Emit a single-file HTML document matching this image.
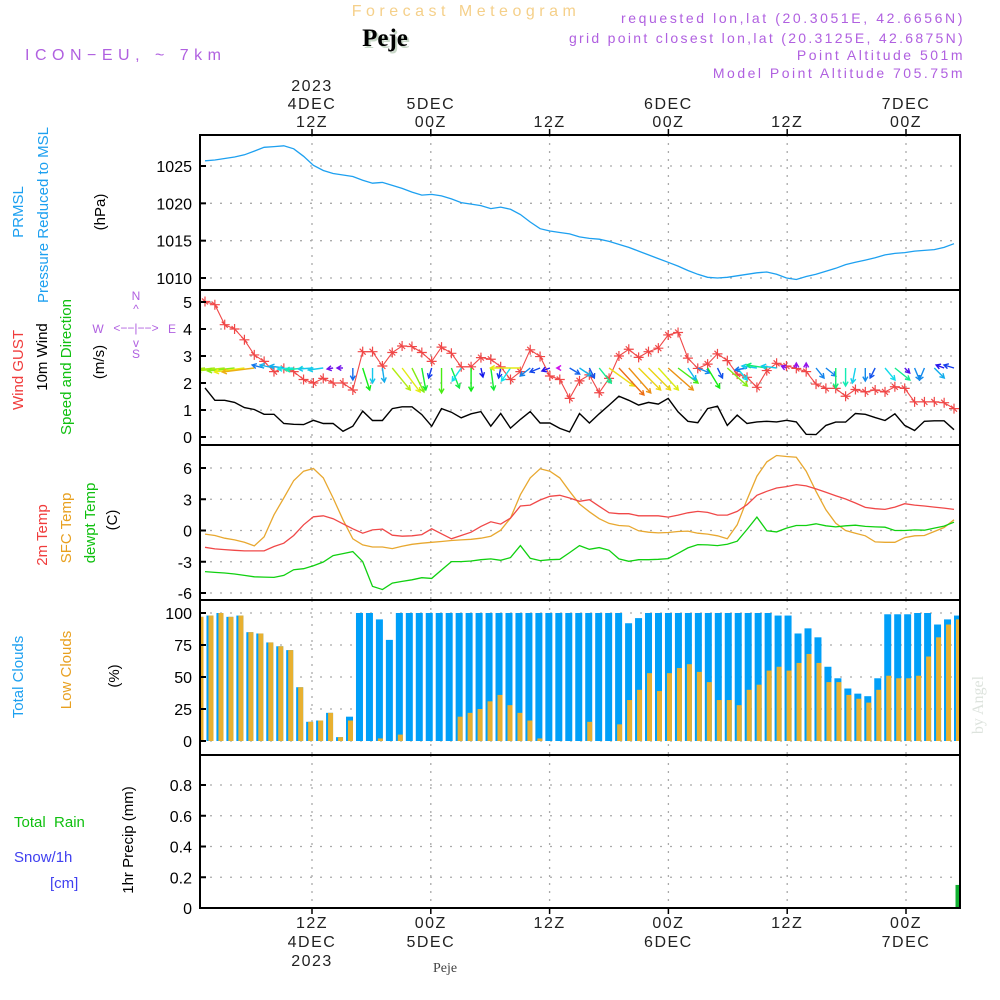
<!DOCTYPE html>
<html><head><meta charset="utf-8">
<style>
html,body{margin:0;padding:0;background:#fff;}
#wrap{position:relative;width:1000px;height:1000px;overflow:hidden;}
svg text{font-family:"Liberation Sans","DejaVu Sans",sans-serif;}
</style></head>
<body>
<div id="wrap">
<svg id="chart" width="1000" height="1000" viewBox="0 0 1000 1000">
<defs>
<clipPath id="plotclip"><rect x="200" y="135" width="760" height="775"/></clipPath>
</defs>
<g>
<text x="466" y="16" text-anchor="middle" font-size="16" fill="#f5d08a" letter-spacing="4.5">Forecast Meteogram</text>
<text x="387" y="48" text-anchor="middle" font-size="25" font-weight="bold" fill="#c8d8c8" style="font-family:'Liberation Serif',serif">Peje</text>
<text x="385" y="46" text-anchor="middle" font-size="25" font-weight="bold" fill="#000" style="font-family:'Liberation Serif',serif">Peje</text>
<text x="25" y="60" font-size="16" fill="#b060e0" letter-spacing="5.5">ICON−EU, ~ 7km</text>
<text x="965" y="23" text-anchor="end" font-size="14" fill="#b060e0" letter-spacing="2.6">requested lon,lat (20.3051E, 42.6656N)</text>
<text x="965" y="43" text-anchor="end" font-size="14" fill="#b060e0" letter-spacing="2.3">grid point closest lon,lat (20.3125E, 42.6875N)</text>
<text x="965" y="60" text-anchor="end" font-size="14" fill="#b060e0" letter-spacing="2.5">Point Altitude 501m</text>
<text x="965" y="78" text-anchor="end" font-size="14" fill="#b060e0" letter-spacing="2.5">Model Point Altitude 705.75m</text>
<text x="445" y="972" text-anchor="middle" font-size="14" fill="#444" style="font-family:'Liberation Serif',serif">Peje</text>
<text transform="translate(983,705) rotate(-90)" text-anchor="middle" font-size="16" fill="#dde3dd" style="font-family:'Liberation Serif',serif">by Angel</text>
</g>
<g id="labels">
<text transform="translate(23,212) rotate(-90)" text-anchor="middle" font-size="15" fill="#1da0f0">PRMSL</text>
<text transform="translate(48,215) rotate(-90)" text-anchor="middle" font-size="15" fill="#1da0f0">Pressure Reduced to MSL</text>
<text transform="translate(105,212) rotate(-90)" text-anchor="middle" font-size="15" fill="#000">(hPa)</text>
<text transform="translate(23,370) rotate(-90)" text-anchor="middle" font-size="15" fill="#f03c3c">Wind GUST</text>
<text transform="translate(47,357) rotate(-90)" text-anchor="middle" font-size="15" fill="#000">10m Wind</text>
<text transform="translate(71,367) rotate(-90)" text-anchor="middle" font-size="15" fill="#10c010">Speed and Direction</text>
<text transform="translate(104,362) rotate(-90)" text-anchor="middle" font-size="15" fill="#000">(m/s)</text>
<g fill="#b060e0" font-size="12">
<text x="136" y="300" text-anchor="middle">N</text>
<text x="136" y="313" text-anchor="middle">^</text>
<text x="98" y="333" text-anchor="middle">W</text>
<text x="136" y="332" text-anchor="middle">&lt;−−|−−&gt;</text>
<text x="172" y="333" text-anchor="middle">E</text>
<text x="136" y="347" text-anchor="middle">v</text>
<text x="136" y="358" text-anchor="middle">S</text>
</g>
<text transform="translate(47,535) rotate(-90)" text-anchor="middle" font-size="15" fill="#f03c3c">2m Temp</text>
<text transform="translate(71,528) rotate(-90)" text-anchor="middle" font-size="15" fill="#e8a020">SFC Temp</text>
<text transform="translate(95,523) rotate(-90)" text-anchor="middle" font-size="15" fill="#10c010">dewpt Temp</text>
<text transform="translate(117,520) rotate(-90)" text-anchor="middle" font-size="15" fill="#000">(C)</text>
<text transform="translate(23,677) rotate(-90)" text-anchor="middle" font-size="15" fill="#1da0f0">Total Clouds</text>
<text transform="translate(71,670) rotate(-90)" text-anchor="middle" font-size="15" fill="#e8a020">Low Clouds</text>
<text transform="translate(119,676) rotate(-90)" text-anchor="middle" font-size="15" fill="#000">(%)</text>
<text x="14" y="827" font-size="15" fill="#10c010" xml:space="preserve">Total  Rain</text>
<text x="14" y="862" font-size="15" fill="#4040f0">Snow/1h</text>
<text x="50" y="888" font-size="15" fill="#4040f0">[cm]</text>
<text transform="translate(133,840) rotate(-90)" text-anchor="middle" font-size="15" fill="#000">1hr Precip (mm)</text>
</g>
<g id="grid"></g>
<g id="marks" clip-path="url(#plotclip)"></g>
<g id="axes"></g>
</svg>
</div>
<script>
// ---- data (hourly, k = 0..76) ----
const timeTickLabelsTop = [["2023","4DEC","12Z"],["5DEC","00Z"],["12Z"],["6DEC","00Z"],["12Z"],["7DEC","00Z"]];
const timeTickLabelsBottom = [["12Z","4DEC","2023"],["00Z","5DEC"],["12Z"],["00Z","6DEC"],["12Z"],["00Z","7DEC"]];
const timeTickHours = [12,24,36,48,60,72];
const pressure = [1025.7,1025.8,1026.0,1026.2,1026.5,1027.0,1027.5,1027.6,1027.7,1027.3,1026.3,1025.1,1024.4,1024.0,1023.8,1023.6,1023.1,1022.7,1022.8,1022.4,1022.0,1021.5,1021.1,1021.2,1021.0,1020.6,1020.1,1019.9,1019.7,1019.3,1019.5,1019.2,1018.5,1017.5,1016.6,1016.3,1016.1,1015.9,1015.5,1015.3,1015.2,1014.9,1014.5,1014.1,1013.6,1013.1,1012.6,1012.1,1011.6,1011.0,1010.5,1010.1,1010.0,1010.1,1010.3,1010.5,1010.7,1010.8,1010.5,1010.0,1009.8,1010.2,1010.5,1010.9,1011.3,1011.8,1012.1,1012.4,1012.7,1013.1,1013.3,1013.4,1013.6,1013.7,1013.8,1014.1,1014.6];
const pressureTicks = [1010,1015,1020,1025];
const gust = [5.02,4.9,4.16,4.0,3.6,3.04,2.8,2.42,2.54,2.42,2.13,2.0,2.17,2.0,2.0,1.74,3.16,3.16,2.63,3.13,3.37,3.35,3.13,2.8,3.33,3.1,2.6,2.6,2.94,2.88,2.6,2.13,2.42,3.23,2.98,2.26,2.13,1.43,2.08,2.3,1.64,2.17,3.0,3.25,2.95,3.16,3.29,3.78,3.87,2.92,2.54,2.7,3.08,2.83,2.33,2.21,1.84,2.46,2.73,2.63,2.54,2.42,1.96,1.8,1.8,1.51,1.76,1.67,1.74,1.67,1.86,1.8,1.3,1.3,1.3,1.27,1.05];
const wind10m = [1.82,1.36,1.36,1.28,1.09,1.02,0.84,0.84,0.5,0.47,0.46,0.62,0.5,0.5,0.21,0.4,0.96,0.61,0.61,1.05,1.12,1.12,0.83,0.4,1.05,0.92,0.71,0.86,0.94,0.4,0.87,0.33,0.65,0.94,0.52,0.52,0.32,0.19,0.87,0.52,0.86,1.18,1.51,1.36,1.18,1.28,1.22,1.43,0.93,0.58,0.53,1.05,1.14,0.43,0.81,0.5,0.56,0.58,0.56,0.62,0.56,0.1,0.09,0.43,0.55,0.55,0.87,0.84,0.72,0.61,0.86,0.43,0.24,0.58,0.6,0.6,0.27];
const windU = [-28,-28,-28,-27,-30,-32,-12,-14,-14,-16,-18,-15,-15,-6,-6,0,7,0,2,18,18,12,4,-3,0,8,-9,0,2,3,-2,-9,-30,-10,-10,-8,-3,10,12,5,12,25,25,22,22,22,20,25,20,8,12,12,5,20,10,-12,-15,-20,-15,-5,0,0,8,10,0,0,-3,0,-5,10,15,5,5,-5,10,-8,-10];
const windV = [3,3,3,3,4,4,-3,-3,-2,1,2,1,2,1,0,12,22,15,14,22,24,24,22,10,25,20,13,23,9,22,10,13,0,8,4,3,0,6,8,10,15,18,27,25,22,22,22,22,15,12,5,20,10,18,12,2,-2,-3,-2,-2,-5,-5,10,8,20,18,15,13,10,12,12,5,12,12,10,-3,-3];
const windTicks = [0,1,2,3,4,5];
const temp2m = [-1.61,-1.77,-1.83,-1.9,-1.96,-1.96,-1.96,-1.54,-1.22,-0.48,0.55,1.32,1.41,1.13,0.64,0.16,-0.26,0.06,0.13,-0.45,-0.55,-0.51,-0.39,0.16,-0.32,-0.8,-0.48,-0.16,0.39,0.84,0.61,1.19,2.35,2.44,2.93,3.28,3.38,3.12,2.8,2.96,2.32,1.7,1.61,1.61,1.41,1.41,1.41,1.29,1.48,1.7,1.83,1.74,1.48,1.48,1.83,2.48,3.38,3.76,4.08,4.21,4.41,4.28,3.99,3.67,3.34,3.02,2.64,2.22,2.09,2.03,2.25,2.57,2.44,2.35,2.25,2.15,2.03];
const tempSfc = [-0.35,-0.48,-0.74,-0.9,-1.13,-1.48,-0.61,1.51,3.12,4.79,5.69,5.95,5.05,3.12,1.03,-0.8,-1.38,-1.58,-1.58,-1.74,-1.51,-1.32,-1.22,-1.13,-1.06,-0.96,-0.9,-0.84,-0.74,-0.55,0.03,1.19,3.44,5.05,5.92,5.69,5.05,3.76,2.54,1.8,1.13,0.68,0.48,0.42,-0.03,-0.16,-0.23,-0.19,-0.1,-0.06,-0.26,-0.35,-0.51,-0.8,0.55,2.96,5.21,6.59,7.2,7.1,7.04,5.69,3.76,1.99,0.71,0,-0.26,-0.51,-1.09,-1.13,-1.13,-0.68,-0.51,-0.48,-0.1,0.29,1.03];
const dewpt = [-3.95,-4.02,-4.08,-4.18,-4.31,-4.44,-4.47,-4.5,-4.31,-3.76,-3.67,-3.38,-3.02,-2.41,-2.22,-2.03,-2.99,-5.37,-5.66,-5.05,-4.89,-4.73,-4.53,-4.6,-3.79,-2.99,-2.99,-2.93,-2.8,-2.73,-2.86,-2.6,-1.45,-2.67,-2.89,-2.8,-2.76,-2.12,-1.45,-1.8,-1.64,-1.9,-2.73,-2.96,-2.8,-2.8,-2.76,-2.7,-2.19,-1.67,-1.35,-1.38,-1.45,-1.32,-1.03,0.1,1.29,-0.03,-0.13,0.23,0.48,0.48,0.64,0.45,0.35,0.45,0.51,0.39,0.35,0.32,0,0,0.06,0.03,0.23,0.42,0.8];
const tempTicks = [-6,-3,0,3,6];
const totalClouds = [97,98,100,97,98,85,84,77,74,71,42,15,16,22,3,19,100,100,95,79,100,100,100,100,100,100,100,100,100,100,100,100,100,100,100,100,100,100,100,100,100,100,100,92,96,100,100,100,100,100,100,100,100,100,100,100,100,100,98,98,84,88,81,58,49,41,37,35,49,99,99,99,100,100,91,95,98];
const lowClouds = [97,98,100,97,98,85,84,77,74,71,42,15,16,22,3,16,0,0,2,0,5,0,0,0,0,0,19,22,25,31,36,28,22,16,2,0,0,0,0,15,0,0,13,32,40,53,39,53,57,60,54,46,32,32,28,40,44,55,58,55,61,68,61,46,46,36,33,30,40,51,49,49,51,66,81,91,95];
const cloudTicks = [0,25,50,75,100];
const precip = [0,0,0,0,0,0,0,0,0,0,0,0,0,0,0,0,0,0,0,0,0,0,0,0,0,0,0,0,0,0,0,0,0,0,0,0,0,0,0,0,0,0,0,0,0,0,0,0,0,0.003,0,0,0,0,0,0,0.003,0,0,0,0,0,0,0,0,0,0,0,0,0,0,0,0,0,0,0,0.15];
const precipTicks = [0,0.2,0.4,0.6,0.8];

// ---- scales ----
const NS = "http://www.w3.org/2000/svg";
const L = 200, R = 960;
function xPt(k){ return 205 + k*(954-205)/76; }
function xBar(k){ return 200 + k*(957.5-200)/76; }
function xHour(h){ return 312 + (h-12)*(906-312)/60; }
function lin(d0,d1,r0,r1){ return v => r0 + (v-d0)*(r1-r0)/(d1-d0); }
const panels = [
 {top:135,bot:290, y:lin(1010,1025,278,166), ticks:pressureTicks, name:'pressure'},
 {top:290,bot:445, y:lin(0,5,437,302), ticks:windTicks, name:'wind'},
 {top:445,bot:600, y:lin(-6,6,593,468), ticks:tempTicks, name:'temperature'},
 {top:600,bot:755, y:lin(0,100,741,613), ticks:cloudTicks, name:'clouds'},
 {top:755,bot:908, y:lin(0,0.8,908,785), ticks:precipTicks, name:'precip'}
];
function mk(tag, attrs, parent){
  const e = document.createElementNS(NS, tag);
  for (const a in attrs) e.setAttribute(a, attrs[a]);
  parent.appendChild(e);
  return e;
}
const grid = document.getElementById('grid');
const marks = document.getElementById('marks');
const axes = document.getElementById('axes');

panels.forEach(p => {
  p.ticks.forEach(t => {
    const y = p.y(t);
    const gl = mk('line',{x1:L,x2:R,y1:y,y2:y,stroke:'#aaa','stroke-width':1.3,'stroke-dasharray':'2,8'},grid);
    
    
    const tk = mk('line',{x1:L,x2:L+6,y1:y,y2:y,stroke:'#000','stroke-width':2},axes);
    
    
    const tx = mk('text',{x:L-8,y:y+6,'text-anchor':'end','font-size':16,fill:'#000'},axes);
    tx.textContent = (p.name==='precip') ? (t===0?'0':t.toFixed(1)) : String(t);
    
    
  });
  timeTickHours.forEach(h => {
    const x = xHour(h);
    const vl = mk('line',{x1:x,x2:x,y1:p.top,y2:p.bot,stroke:'#aaa','stroke-width':1.3,'stroke-dasharray':'2,6'},grid);
    
    
  });
  const box = mk('rect',{x:L,y:p.top,width:R-L,height:p.bot-p.top,fill:'none',stroke:'#000','stroke-width':2},axes);
  
  
});

timeTickHours.forEach((h,i) => {
  const x = xHour(h);
  const t1 = mk('line',{x1:x,x2:x,y1:129,y2:135,stroke:'#000','stroke-width':1.5},axes);
  
  
  const lines = timeTickLabelsTop[i];
  lines.forEach((s,j) => {
    const y = 127 - (lines.length-1-j)*18;
    const tt = mk('text',{x:x,y:y,'text-anchor':'middle','font-size':16,fill:'#222','letter-spacing':1.5},axes);
    tt.textContent = s;
    
    
  });
  const b = timeTickLabelsBottom[i];
  b.forEach((s,j) => {
    const tb = mk('text',{x:x,y:928+j*19,'text-anchor':'middle','font-size':16,fill:'#222','letter-spacing':1.5},axes);
    tb.textContent = s;
    
    
  });
  const t2 = mk('line',{x1:x,x2:x,y1:908,y2:914,stroke:'#000','stroke-width':1.5},axes);
  
  
});

function poly(arr, yfn, color, name, w){
  const pts = arr.map((v,k) => xPt(k).toFixed(1)+','+yfn(v).toFixed(1)).join(' ');
  const pl = mk('polyline',{points:pts,fill:'none',stroke:color,'stroke-width':w||1.3},marks);
  
  
}
poly(pressure, panels[0].y, '#1da0f0', 'pressure-line');
poly(wind10m, panels[1].y, '#000', 'wind-10m-line', 1.4);
poly(gust, panels[1].y, '#f04848', 'gust-line', 1.1);
gust.forEach((v,k) => {
  const x = xPt(k), y = panels[1].y(v);
  const g = mk('path',{d:`M${x-5},${y}H${x+5}M${x},${y-5}V${y+5}M${x-3},${y-3}L${x+3},${y+3}`,stroke:'#f04848','stroke-width':1.2,fill:'none'},marks);
  
  
});
function arrowColor(len){
  const h = Math.max(25, 275 - (len-5)*8.5);
  return `hsl(${h},85%,50%)`;
}
windU.forEach((u,k) => {
  const v = windV[k];
  const len = Math.hypot(u,v);
  if (len < 1) return;
  const x0 = xPt(k), y0 = 368, x1 = x0+u, y1 = y0+v;
  const ux = u/len, uy = v/len, hs = 5;
  const ax = x1 - hs*(ux*0.87 - uy*0.5), ay = y1 - hs*(uy*0.87 + ux*0.5);
  const bx = x1 - hs*(ux*0.87 + uy*0.5), by = y1 - hs*(uy*0.87 - ux*0.5);
  const a = mk('path',{d:`M${x0},${y0}L${x1},${y1}M${ax},${ay}L${x1},${y1}L${bx},${by}`,stroke:arrowColor(len),'stroke-width':1.4,fill:'none'},marks);
  
  
});
poly(tempSfc, panels[2].y, '#e8a830', 'sfc-temp-line');
poly(temp2m, panels[2].y, '#f04848', 'temp-2m-line');
poly(dewpt, panels[2].y, '#10d010', 'dewpt-line');
const cy = panels[3].y;
totalClouds.forEach((v,k) => {
  const x = xBar(k);
  const r = mk('rect',{x:x-3.5,y:cy(v),width:7,height:cy(0)-cy(v),fill:'#009ff8'},marks);
  
  
  const lv = lowClouds[k];
  if (lv > 0) {
    const o = mk('rect',{x:x-1.5,y:cy(lv),width:5,height:cy(0)-cy(lv),fill:'#e8b030'},marks);
    
    
  }
});
const py = panels[4].y;
precip.forEach((v,k) => {
  if (v <= 0) return;
  const x = xBar(k);
  const r = mk('rect',{x:x-2,y:py(v),width:5,height:Math.max(1,py(0)-py(v)),fill:'#10b030'},marks);
  
  
});
</script>
</body></html>
